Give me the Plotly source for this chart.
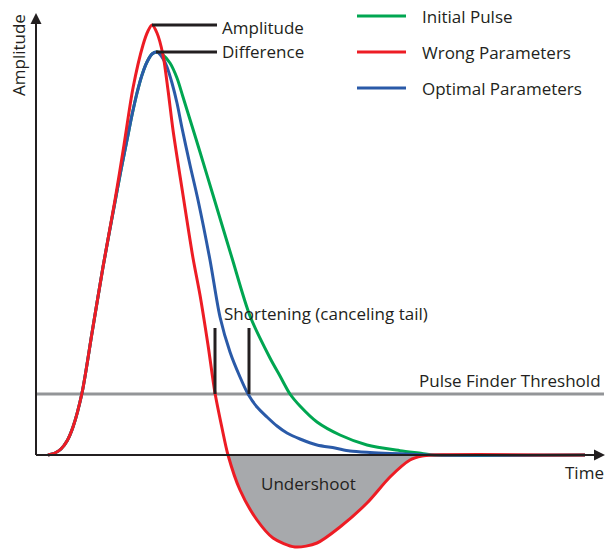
import plotly.graph_objects as go

# ---- data (time in arbitrary units, amplitude in arbitrary units) ----
t_red = [48, 55, 61, 67, 73, 82, 92, 103, 115, 124, 133, 143, 148, 152, 157, 163, 168, 173,
         183, 193, 200, 208, 215, 222, 228, 240, 257, 273, 295, 317, 340, 367, 390, 410, 422, 432, 585]
a_red = [0, 2, 6, 14, 28, 62, 122, 188, 255, 310, 367, 410, 424, 430, 422, 400, 365, 325,
         260, 197, 160, 110, 62, 27, 0, -35, -65, -83, -92, -88, -72, -48, -22, -5, -1, 0, 0]

t_blue = [48, 55, 61, 67, 73, 82, 92, 103, 115, 121, 127, 132, 137, 142, 147, 152, 157, 162, 167,
          172, 177, 182, 190, 198, 210, 220, 230, 240, 248, 257, 267, 277, 287, 300, 317, 335, 350,
          370, 390, 410, 432, 585]
a_blue = [0, 2, 6, 14, 28, 62, 122, 188, 253, 285, 315, 340, 362, 380, 393, 401, 403, 398, 388,
          372, 352, 327, 290, 255, 195, 138, 103, 78, 61, 48, 38, 29, 22, 16, 10, 7, 4,
          2.5, 1.5, 0.8, 0, 0]

t_green = [48, 55, 61, 67, 73, 82, 92, 103, 115, 121, 127, 132, 137, 142, 147, 152, 157, 163, 170,
           177, 183, 192, 200, 213, 232, 250, 270, 280, 290, 300, 317, 340, 367, 400, 422, 432, 585]
a_green = [0, 2, 6, 14, 28, 62, 122, 188, 253, 285, 315, 340, 362, 380, 393, 401, 403, 400, 392,
           377, 358, 329, 303, 260, 197, 139, 97, 79, 61, 49, 33, 20, 10, 4.3, 1.5, 0, 0]

# undershoot region of the "wrong parameters" pulse
t_under = t_red[24:36]
a_under = a_red[24:36]

threshold = 61
x_start, x_end = 36, 604

series_names = ["Initial Pulse", "Wrong Parameters", "Optimal Parameters"]
GREEN, RED, BLUE = "#00A651", "#ED1C24", "#2A5AA8"
INK = "#231F20"
GRAY = "#939598"
FILL = "#A7A9AC"
FONT = "Open Sans"
FS = 17

fig = go.Figure()

# undershoot fill
fig.add_trace(go.Scatter(x=t_under, y=a_under, mode="lines", fill="tozeroy",
                         fillcolor=FILL, line=dict(width=0, shape="spline", color=FILL),
                         showlegend=False, hoverinfo="skip"))

# threshold line
fig.add_trace(go.Scatter(x=[x_start, x_end], y=[threshold, threshold], mode="lines",
                         line=dict(color=GRAY, width=3), showlegend=False, hoverinfo="skip"))

# curves
fig.add_trace(go.Scatter(x=t_green, y=a_green, mode="lines", name=series_names[0],
                         line=dict(color=GREEN, width=3, shape="spline", smoothing=0.8),
                         showlegend=False))
fig.add_trace(go.Scatter(x=t_blue, y=a_blue, mode="lines", name=series_names[2],
                         line=dict(color=BLUE, width=3, shape="spline", smoothing=0.8),
                         showlegend=False))
fig.add_trace(go.Scatter(x=t_red, y=a_red, mode="lines", name=series_names[1],
                         line=dict(color=RED, width=3, shape="spline", smoothing=0.8),
                         showlegend=False))

shapes = []
# axes lines
shapes.append(dict(type="line", xref="x", yref="y", x0=36, x1=36, y0=0, y1=436,
                   line=dict(color=INK, width=2)))
shapes.append(dict(type="line", xref="x", yref="y", x0=36, x1=600, y0=0, y1=0,
                   line=dict(color=INK, width=2)))
# amplitude difference markers
shapes.append(dict(type="line", xref="x", yref="y", x0=152, x1=217, y0=430, y1=430,
                   line=dict(color=INK, width=3)))
shapes.append(dict(type="line", xref="x", yref="y", x0=156, x1=217, y0=403, y1=403,
                   line=dict(color=INK, width=3)))
# shortening markers
shapes.append(dict(type="line", xref="x", yref="y", x0=215, x1=215, y0=threshold, y1=127,
                   line=dict(color=INK, width=3)))
shapes.append(dict(type="line", xref="x", yref="y", x0=249, x1=249, y0=threshold, y1=127,
                   line=dict(color=INK, width=3)))
# legend samples
leg_y = [439, 403, 367]
leg_col = [GREEN, RED, BLUE]
leg_names = [series_names[0], series_names[1], series_names[2]]
for yy, cc in zip(leg_y, leg_col):
    shapes.append(dict(type="line", xref="x", yref="y", x0=357, x1=406, y0=yy, y1=yy,
                       line=dict(color=cc, width=3)))

ann = []
def txt(x, y, s, xa="left", size=FS, angle=0):
    ann.append(dict(x=x, y=y, xref="x", yref="y", text=s, showarrow=False,
                    xanchor=xa, yanchor="middle", textangle=angle,
                    font=dict(family=FONT, size=size, color=INK)))

for yy, nm in zip(leg_y, leg_names):
    txt(420, yy, nm)
txt(220, 428, "Amplitude")
txt(220, 404, "Difference")
txt(222, 142, "Shortening (canceling tail)")
txt(603, 75, "Pulse Finder Threshold", xa="right")
txt(308, -28, "Undershoot", xa="center")
txt(606, -17, "Time", xa="right")
txt(18, 400, "Amplitude", xa="center", angle=-90)

# axis arrowheads
ann.append(dict(x=36, y=442, ax=36, ay=420, xref="x", yref="y", axref="x", ayref="y",
                text="", showarrow=True, arrowhead=2, arrowsize=1.1, arrowwidth=2,
                arrowcolor=INK, standoff=0))
ann.append(dict(x=605, y=0, ax=585, ay=0, xref="x", yref="y", axref="x", ayref="y",
                text="", showarrow=True, arrowhead=2, arrowsize=1.1, arrowwidth=2,
                arrowcolor=INK, standoff=0))

# the page body adds an 8px offset; the figure fills the rest of the window
fig.update_layout(
    width=606, height=542,
    margin=dict(l=0, r=0, t=0, b=0),
    paper_bgcolor="white", plot_bgcolor="white",
    xaxis=dict(range=[8, 614], visible=False, fixedrange=True),
    yaxis=dict(range=[-95, 447], visible=False, fixedrange=True),
    shapes=shapes, annotations=ann, showlegend=False,
)

fig.write_html("out.html")
